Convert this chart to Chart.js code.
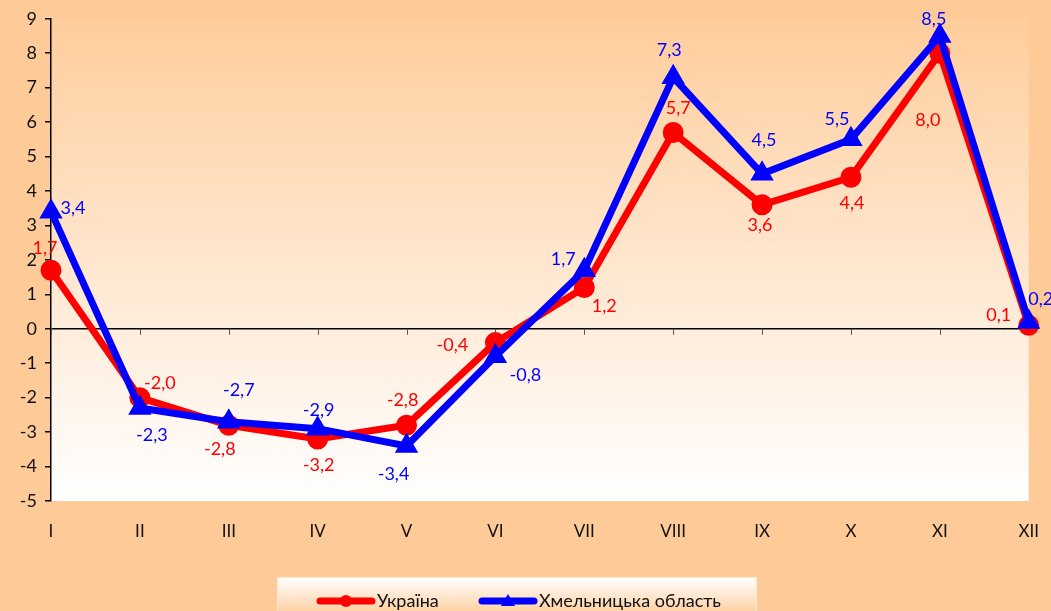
<!DOCTYPE html>
<html>
<head>
<meta charset="utf-8">
<script src="https://cdn.jsdelivr.net/npm/chart.js@4/dist/chart.umd.min.js"></script>
<style>
  body { margin: 0; background: #FECB98; }
  #wrap { width: 1051px; height: 611px; position: relative; }
</style>
</head>
<body>
<div id="wrap"><canvas id="chart"></canvas></div>
<script>
const months = ['I', 'II', 'III', 'IV', 'V', 'VI', 'VII', 'VIII', 'IX', 'X', 'XI', 'XII'];
const ukraine = [1.7, -2.0, -2.8, -3.2, -2.8, -0.4, 1.2, 5.7, 3.6, 4.4, 8.0, 0.1];
const khmelnytskyi = [3.4, -2.3, -2.7, -2.9, -3.4, -0.8, 1.7, 7.3, 4.5, 5.5, 8.5, 0.2];

// label offsets from the point (px), per series
const ukraineLabelPos = [[-6, -22], [20, -14], [-9, 24], [1, 26], [-4, -25], [-43, 3],
  [20, 19], [5, -24], [-2, 20], [1, 26], [-12, 67], [-30, -10]];
const khmLabelPos = [[22, -3], [12, 27], [10, -32], [1, -18], [-13, 28], [30, 19],
  [-21, -11], [-4, -27], [2, -34], [-14, -20], [-6, -17], [12, -23]];

const fontFamily = 'Lato, "Open Sans", sans-serif';

const background = {
  id: 'background',
  beforeDraw(chart) {
    const { ctx, chartArea: a } = chart;
    ctx.save();
    ctx.fillStyle = '#FECB98';
    ctx.fillRect(0, 0, chart.width, chart.height);
    const g = ctx.createLinearGradient(0, a.top, 0, a.bottom);
    g.addColorStop(0, '#FFCD9C');
    g.addColorStop(1, '#FFFFFF');
    ctx.fillStyle = g;
    ctx.fillRect(a.left, a.top, a.right - a.left, a.bottom - a.top);
    ctx.restore();
  }
};

const zeroTicks = {
  id: 'zeroTicks',
  beforeDatasetsDraw(chart) {
    const { ctx, scales: { x, y } } = chart;
    const y0 = y.getPixelForValue(0);
    ctx.save();
    ctx.strokeStyle = '#555';
    ctx.lineWidth = 1;
    months.forEach((m, i) => {
      const px = Math.round(x.getPixelForValue(i)) + 0.5;
      ctx.beginPath();
      ctx.moveTo(px, y0);
      ctx.lineTo(px, y0 + 6);
      ctx.stroke();
    });
    ctx.restore();
  }
};

const valueLabels = {
  id: 'valueLabels',
  afterDatasetsDraw(chart) {
    const { ctx } = chart;
    const offsets = [ukraineLabelPos, khmLabelPos];
    ctx.save();
    ctx.font = '18px ' + fontFamily;
    ctx.textAlign = 'center';
    ctx.textBaseline = 'middle';
    chart.data.datasets.forEach((ds, di) => {
      const meta = chart.getDatasetMeta(di);
      ctx.fillStyle = ds.borderColor;
      meta.data.forEach((pt, i) => {
        const [dx, dy] = offsets[di][i];
        ctx.fillText(ds.data[i].toFixed(1).replace('.', ','), pt.x + dx, pt.y + dy);
      });
    });
    ctx.restore();
  }
};

const boxLegend = {
  id: 'boxLegend',
  afterDraw(chart) {
    const { ctx } = chart;
    const left = 277, top = 577, w = 480, h = 40;
    ctx.save();
    const g = ctx.createLinearGradient(0, top, 0, top + h);
    g.addColorStop(0, '#FFFFFF');
    g.addColorStop(1, '#FECB98');
    ctx.fillStyle = g;
    ctx.fillRect(left, top, w, h);
    ctx.strokeStyle = '#FFE9D4';
    ctx.strokeRect(left + 0.5, top + 0.5, w - 1, h);
    const items = [
      { ds: chart.data.datasets[0], x: 320 },
      { ds: chart.data.datasets[1], x: 482 }
    ];
    const yMid = 601;
    ctx.font = '18px ' + fontFamily;
    ctx.textBaseline = 'middle';
    items.forEach(({ ds, x }) => {
      ctx.strokeStyle = ds.borderColor;
      ctx.fillStyle = ds.borderColor;
      ctx.lineWidth = 7;
      ctx.lineCap = 'round';
      ctx.beginPath();
      ctx.moveTo(x, yMid);
      ctx.lineTo(x + 52, yMid);
      ctx.stroke();
      const cx = x + 26;
      ctx.beginPath();
      if (ds.pointStyle === 'triangle') {
        ctx.moveTo(cx, yMid - 7);
        ctx.lineTo(cx + 7, yMid + 5);
        ctx.lineTo(cx - 7, yMid + 5);
        ctx.closePath();
      } else {
        ctx.arc(cx, yMid, 6, 0, Math.PI * 2);
      }
      ctx.fill();
      ctx.fillStyle = '#111';
      ctx.textAlign = 'left';
      ctx.fillText(ds.label, x + 57, yMid);
    });
    ctx.restore();
  }
};

new Chart(document.getElementById('chart'), {
  type: 'line',
  data: {
    labels: months,
    datasets: [
      {
        label: 'Україна',
        data: ukraine,
        borderColor: '#FF0000',
        backgroundColor: '#FF0000',
        borderWidth: 7,
        pointStyle: 'circle',
        pointRadius: 7,
        pointHoverRadius: 7,
        tension: 0,
        order: 1
      },
      {
        label: 'Хмельницька область',
        data: khmelnytskyi,
        borderColor: '#0000FF',
        backgroundColor: '#0000FF',
        borderWidth: 7,
        pointStyle: 'triangle',
        pointRadius: 6.5,
        pointHoverRadius: 6.5,
        tension: 0,
        order: 0
      }
    ]
  },
  options: {
    responsive: true,
    maintainAspectRatio: false,
    animation: false,
    layout: { padding: { top: 16, right: 19, bottom: 0, left: 0 } },
    plugins: {
      legend: { display: false },
      tooltip: { enabled: false }
    },
    scales: {
      x: {
        offset: false,
        grid: { display: false },
        border: { display: false },
        ticks: { color: '#111', font: { size: 17, family: fontFamily }, padding: 12 },
        afterFit(scale) { scale.height = 110; }
      },
      y: {
        min: -5,
        max: 9,
        ticks: { stepSize: 1, color: '#111', font: { size: 18, family: fontFamily }, padding: 8 },
        grid: {
          color: ctx => ctx.tick && ctx.tick.value === 0 ? '#000' : 'rgba(0,0,0,0)',
          tickColor: '#000',
          tickLength: 6,
          lineWidth: 1.5
        },
        border: { display: true, color: '#000', width: 1.5 },
        afterFit(scale) { scale.width = 51; }
      }
    }
  },
  plugins: [background, zeroTicks, valueLabels, boxLegend]
});
</script>
</body>
</html>
